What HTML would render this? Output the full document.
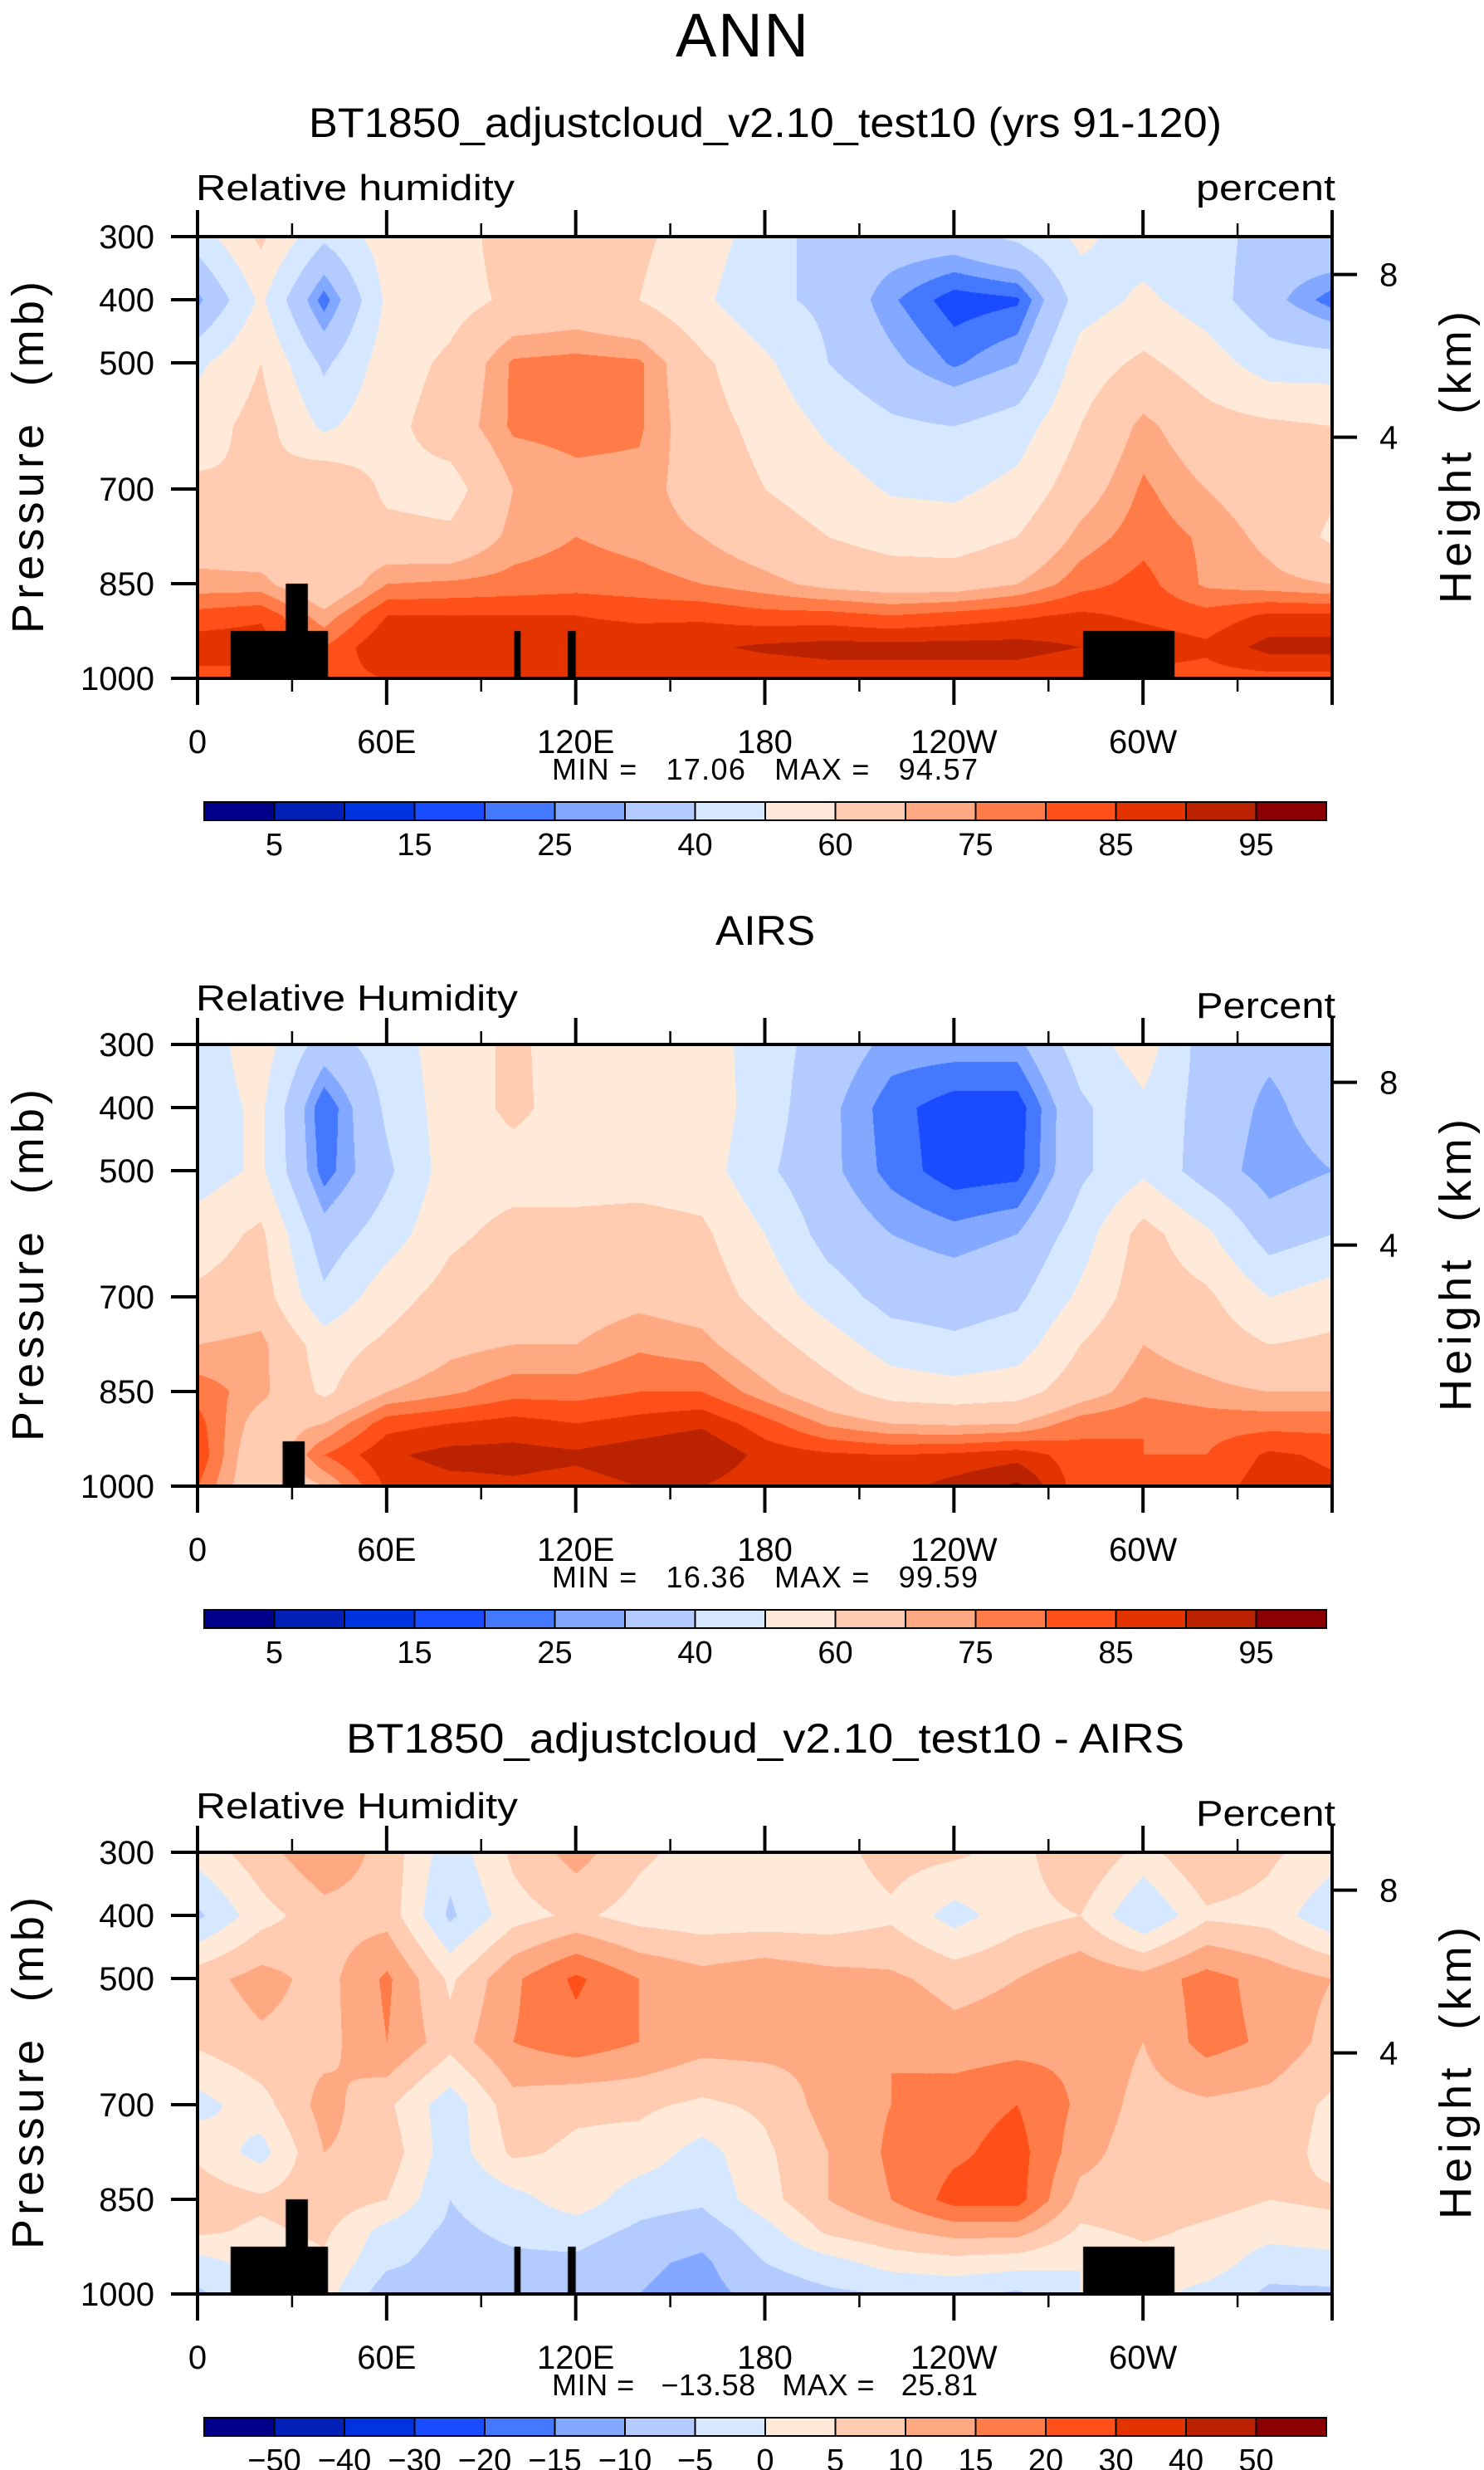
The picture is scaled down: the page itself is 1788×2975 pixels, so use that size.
<!DOCTYPE html>
<html><head><meta charset="utf-8">
<style>
html,body{margin:0;padding:0;background:#fff;}
#root{position:relative;width:1788px;height:2975px;overflow:hidden;background:#fff;}
canvas{position:absolute;}
svg{position:absolute;left:0;top:0;}
text{font-family:"Liberation Sans",sans-serif;fill:#000;white-space:pre;}
</style></head>
<body>
<div id="root">
<canvas id="c0" width="1367" height="532" style="left:238px;top:285px"></canvas>
<canvas id="c1" width="1367" height="532" style="left:238px;top:1258px"></canvas>
<canvas id="c2" width="1367" height="532" style="left:238px;top:2231px"></canvas>
<svg id="ov" width="1788" height="2975"></svg>
</div>
<script>
// ---- data ----
const lons = [0,20,40,60,80,100,120,140,160,180,200,220,240,260,280,300,320,340,360];
const levels = [300,400,500,600,700,775,850,900,950,1000];
const modelRH = [
[45,62,42,55,55,65,65,62,55,45,35,35,35,42,52,45,45,35,40],
[28,52,22,52,56,62,64,60,52,42,38,26,17,19,45,52,45,33,22],
[48,60,38,55,62,76,77,76,62,52,40,32,24,30,55,62,55,45,45],
[55,64,48,57,65,76,77,76,64,57,48,42,40,45,60,72,64,62,60],
[62,60,70,58,56,70,73,73,66,60,55,49,48,53,66,76,70,65,62],
[66,64,65,63,62,72,75,73,70,65,60,56,55,60,72,78,74,68,58],
[72,72,62,75,76,77,78,77,75,72,68,66,66,70,78,82,74,72,70],
[82,84,72,85,85,85,85,84,84,82,82,80,82,84,86,84,82,86,86],
[88,88,80,90,89,89,88,88,89,91,92,92,92,92,90,88,86,92,92],
[83,83,83,85,85,85,85,85,86,86,87,87,87,87,85,83,83,83,83]];
const airsRH = [
[45,55,35,45,55,62,55,55,55,45,35,28,28,28,45,55,35,32,35],
[45,52,20,42,55,62,56,60,56,45,32,22,17,17,38,48,36,28,35],
[45,52,22,38,55,56,56,56,55,42,32,23,17,18,38,48,35,26,30],
[55,62,34,45,58,63,63,64,62,50,36,30,27,30,45,64,52,35,40],
[62,65,42,56,64,66,66,68,66,56,45,36,35,38,52,66,62,50,55],
[70,72,55,62,68,70,70,74,72,64,55,45,42,45,60,70,66,60,62],
[78,72,58,70,74,78,78,80,80,72,64,56,54,56,66,74,72,70,70],
[82,66,70,83,85,87,85,87,89,82,74,70,69,70,78,80,78,78,78],
[84,62,80,89,92,92,91,93,95,88,86,85,86,88,82,80,80,86,84],
[80,62,70,86,88,89,88,90,90,86,86,88,92,96,82,80,82,88,86]];
const diffRH = [
[2,8,14,8,-3,6,12,6,3,3,3,7,6,3,10,3,10,6,2],
[-6,3,8,8,-6,3,6,3,2,2,2,4,-2,3,5,-5,4,3,-4],
[8,12,8,16,4,14,21,15,12,14,12,11,8,10,14,12,17,13,10],
[6,9,8,15,7,15,18,15,12,12,11,15,12,13,14,10,17,14,8],
[-2,3,12,6,-3,8,6,6,4,6,12,15,18,20,14,8,9,8,4],
[4,-2,10,8,-3,6,4,3,-2,4,10,16,19,22,12,7,9,8,3],
[8,6,8,5,-5,-2,3,-3,-4,3,10,15,22,22,8,8,7,5,6],
[6,4,6,-2,-6,-4,-3,-6,-8,-2,6,9,12,12,4,6,4,2,3],
[-2,2,4,-4,-7,-6,-6,-9,-11,-5,-2,2,3,2,0,3,3,-3,-2],
[-6,0,2,-8,-8,-7,-8,-10,-12,-8,-6,-5,-4,-6,0,2,-2,-6,-6]];
const rhLevels = [5,10,15,20,25,30,40,50,60,70,75,80,85,90,95];
const diffLevels = [-50,-40,-30,-20,-15,-10,-5,0,5,10,15,20,30,40,50];
const palette = ["#00008a","#0020b8","#0033e0","#1a4cff","#4479ff","#82a8ff","#b3cbff","#d6e8ff","#ffeada","#ffcbb1","#ffa982","#ff7b47","#ff5019","#e33400","#bb2200","#8b0000"];
const rhLabels = ["","5","","15","","25","","40","","60","","75","","85","","95",""];
const diffLabels = ["","−50","−40","−30","−20","−15","−10","−5","0","5","10","15","20","30","40","50",""];
const lonTickVals = [0,60,120,180,240,300,360];
const lonTickLabels = ["0","60E","120E","180","120W","60W",""];
const presTicks = [300,400,500,700,850,1000];
const kmTicks = [8,4];
const kmTickPres = [360,618];
const maskModel = [[10.5,41.4,925],[28,35,850],[100.5,102.5,925],[117.5,120,925],[281,310,925]];
const maskAirs = [[27,34,929]];
const maskDiff = [[10.5,41.4,925],[28,35,850],[100.5,102.5,925],[117.5,120,925],[281,310,925]];
const stats = [["17.06","94.57"],["16.36","99.59"],["−13.58","25.81"]];

// ---- geometry ----
const PX=238, PW=1367, PTOP=285, PH=532, OFF=973;
function xOf(lon){return PX+lon/360*PW;}
function yOf(p,k){return PTOP+k*OFF+(p-300)/700*PH;}

function hexToRgb(h){return [parseInt(h.substr(1,2),16),parseInt(h.substr(3,2),16),parseInt(h.substr(5,2),16)];}
const palRgb = palette.map(hexToRgb);

function sample(grid,lon,p){
  let i=Math.min(lons.length-2,Math.floor(lon/20)); let tx=(lon-lons[i])/20;
  let j=0; while(j<levels.length-2 && p>levels[j+1]) j++;
  let ty=(p-levels[j])/(levels[j+1]-levels[j]);
  const a=grid[j][i],b=grid[j][i+1],c=grid[j+1][i],d=grid[j+1][i+1];
  return (a*(1-tx)+b*tx)*(1-ty)+(c*(1-tx)+d*tx)*ty;
}
function binOf(v,edges){let k=0;while(k<edges.length && v>=edges[k])k++;return k;}

function drawField(id,grid,edges,mask){
  const cv=document.getElementById(id),ctx=cv.getContext('2d');
  const img=ctx.createImageData(PW,PH);
  for(let y=0;y<PH;y++){
    const p=300+y/PH*700;
    for(let x=0;x<PW;x++){
      const lon=x/PW*360;
      const c=palRgb[binOf(sample(grid,lon,p),edges)];
      const o=(y*PW+x)*4;img.data[o]=c[0];img.data[o+1]=c[1];img.data[o+2]=c[2];img.data[o+3]=255;
    }
  }
  ctx.putImageData(img,0,0);
  ctx.fillStyle='#000';
  mask.forEach(m=>{
    const x0=m[0]/360*PW,x1=m[1]/360*PW,y0=(m[2]-300)/700*PH;
    ctx.fillRect(x0,y0,x1-x0,PH-y0);
  });
}
drawField('c0',modelRH,rhLevels,maskModel);
drawField('c1',airsRH,rhLevels,maskAirs);
drawField('c2',diffRH,diffLevels,maskDiff);

// ---- SVG overlay ----
const NS="http://www.w3.org/2000/svg";
const svg=document.getElementById('ov');
function el(tag,attrs,txt){const e=document.createElementNS(NS,tag);for(const k in attrs)e.setAttribute(k,attrs[k]);if(txt!==undefined)e.textContent=txt;svg.appendChild(e);return e;}
function line(x1,y1,x2,y2,w){return el('line',{x1:x1,y1:y1,x2:x2,y2:y2,stroke:'#000','stroke-width':w});}

let t=el('text',{x:894,y:68,'font-size':74,'text-anchor':'middle',textLength:160},'ANN');



const titles=["BT1850_adjustcloud_v2.10_test10 (yrs 91-120)","AIRS","BT1850_adjustcloud_v2.10_test10 - AIRS"];
const titleLen=[1100,120,1010];
const leftLabels=["Relative humidity","Relative Humidity","Relative Humidity"];
const rightLabels=["percent","Percent","Percent"];
const names=["model","airs","diff"];

for(let k=0;k<3;k++){
  const o=k*OFF;
  const tt=el('text',{x:922,y:165+o,'font-size':50,'text-anchor':'middle',textLength:titleLen[k],lengthAdjust:'spacingAndGlyphs'},titles[k]);
  
  
  const ll=el('text',{x:236,y:241+o+(k?3:0),'font-size':44,textLength:(k?388:384),lengthAdjust:'spacingAndGlyphs'},leftLabels[k]);
  
  
  const rl=el('text',{x:1609,y:241+o+(k?12:0),'font-size':44,'text-anchor':'end',textLength:168,lengthAdjust:'spacingAndGlyphs'},rightLabels[k]);
  
  
  const fr=el('rect',{x:PX,y:PTOP+o,width:PW,height:PH,fill:'none',stroke:'#000','stroke-width':4});
  
  
  for(let lon=0;lon<=360;lon+=30){
    const major=lon%60===0, len=major?32:16, x=xOf(lon);
    line(x,PTOP+o+PH,x,PTOP+o+PH+len,major?4:2.5);
    line(x,PTOP+o,x,PTOP+o-len,major?4:2.5);
  }
  lonTickVals.forEach((v,i)=>{
    if(!lonTickLabels[i])return;
    const lt=el('text',{x:xOf(v),y:907+o,'font-size':40,'text-anchor':'middle'},lonTickLabels[i]);
    
    
  });
  presTicks.forEach(p=>{
    const y=yOf(p,k);
    line(PX-32,y,PX,y,4);
    const pt=el('text',{x:186,y:y+14,'font-size':40,'text-anchor':'end'},String(p));
    
    
  });
  kmTicks.forEach((km,i)=>{
    const y=yOf(kmTickPres[i],k);
    line(PX+PW,y,PX+PW+30,y,4);
    const kt=el('text',{x:1662,y:y+14,'font-size':40},String(km));
    
    
  });
  const yt=el('text',{x:0,y:0,'font-size':54,'text-anchor':'middle',textLength:424,lengthAdjust:'spacing',transform:`translate(52,${551+o}) rotate(-90)`},'Pressure  (mb)');
  
  
  const ht=el('text',{x:0,y:0,'font-size':54,'text-anchor':'middle',textLength:352,lengthAdjust:'spacing',transform:`translate(1772,${551+o}) rotate(-90)`},'Height  (km)');
  
  
  const mm=el('text',{x:665,y:939+o,'font-size':36,textLength:513,lengthAdjust:'spacing'},`MIN =   ${stats[k][0]}   MAX =   ${stats[k][1]}`);
  
  
  const cbX=246,cbW=1352/16,cbY=966+o,cbH=22;
  for(let b=0;b<16;b++){
    const r=el('rect',{x:cbX+b*cbW,y:cbY,width:cbW,height:cbH,fill:palette[b],stroke:'#000','stroke-width':2});
    
    
  }
  const labs=k<2?rhLabels:diffLabels;
  labs.forEach((s,b)=>{
    if(!s)return;
    const cl=el('text',{x:cbX+b*cbW,y:1030+o,'font-size':38,'text-anchor':'middle'},s);
    
    
  });
}
</script>
</body></html>
